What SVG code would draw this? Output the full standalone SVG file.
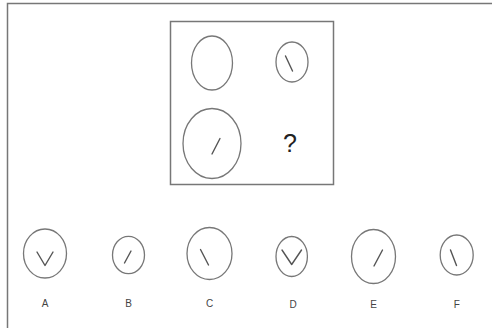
<svg xmlns="http://www.w3.org/2000/svg" width="492" height="328" viewBox="0 0 492 328">
<style>
.frame{fill:none;stroke:#777;stroke-width:1.5}
.sh{fill:none;stroke:#777;stroke-width:1.3}
.mk{fill:none;stroke:#555;stroke-width:1.4;stroke-linecap:round;stroke-linejoin:round}
.lbl{font-family:"Liberation Sans",Arial,sans-serif;font-size:10px;fill:#444;text-anchor:middle}
.q{font-family:"Liberation Sans",Arial,sans-serif;font-size:25px;fill:#222;text-anchor:middle}
</style>
<rect class="frame" x="7.5" y="3.5" width="500" height="340"/>
<g id="matrix">
<rect class="frame" x="170.5" y="21.5" width="163" height="163"/>
<g id="m1"><ellipse class="sh" cx="212" cy="63" rx="20.5" ry="27"/></g>
<g id="m2"><ellipse class="sh" cx="292" cy="62" rx="16" ry="20"/><line class="mk" x1="285.5" y1="56" x2="292.5" y2="71"/></g>
<g id="m3"><ellipse class="sh" cx="212" cy="143.5" rx="29" ry="35"/><line class="mk" x1="212" y1="154" x2="220" y2="138.5"/></g>
<g id="m4"><text class="q" x="290" y="152">?</text></g>
</g>
<g id="A"><ellipse class="sh" cx="45" cy="253.5" rx="21.5" ry="24.5"/><polyline class="mk" points="37,252 45,265.5 53,252"/><text class="lbl" x="45" y="307">A</text></g>
<g id="B"><ellipse class="sh" cx="128.5" cy="255" rx="16" ry="18.7"/><line class="mk" x1="124.5" y1="263" x2="131" y2="251"/><text class="lbl" x="128.5" y="307">B</text></g>
<g id="C"><ellipse class="sh" cx="209.5" cy="253.5" rx="22.5" ry="26"/><line class="mk" x1="200.5" y1="249.5" x2="208.5" y2="265"/><text class="lbl" x="209.5" y="307">C</text></g>
<g id="D"><ellipse class="sh" cx="291.7" cy="256.5" rx="15.7" ry="20"/><polyline class="mk" points="282,250 291.7,264.5 301.5,250"/><text class="lbl" x="293" y="308">D</text></g>
<g id="E"><ellipse class="sh" cx="373.5" cy="256.5" rx="22" ry="27"/><line class="mk" x1="374" y1="266" x2="382.5" y2="250"/><text class="lbl" x="373.5" y="308">E</text></g>
<g id="F"><ellipse class="sh" cx="456.7" cy="255" rx="16.5" ry="20"/><line class="mk" x1="450.5" y1="250" x2="456.5" y2="265.5"/><text class="lbl" x="456.7" y="308">F</text></g>
</svg>
